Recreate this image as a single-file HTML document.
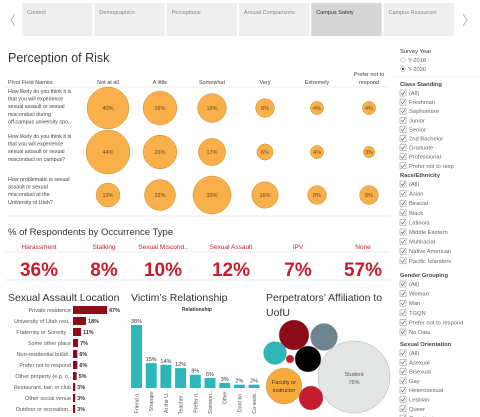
<!DOCTYPE html>
<html><head><meta charset="utf-8">
<style>
body{margin:0;width:480px;height:417px;overflow:hidden;background:#fff;font-family:"Liberation Sans",sans-serif;}
svg{display:block}
text{font-family:"Liberation Sans",sans-serif}
</style></head><body>
<svg id="s" width="480" height="417" viewBox="0 0 480 417"></svg>
<script>
const tabs=["Context","Demographics","Perceptions","Annual Comparisons","Campus Safety","Campus Resources"];
const riskCols=["Not at all","A little","Somewhat","Very","Extremely","Prefer not to respond"];
const riskRow1=[40,26,19,8,4,4];
const riskRow2=[44,26,17,6,4,3];
const riskRow3=[13,22,33,16,8,8];
const riskQuestions=[["How likely do you think it is","that you will experience","sexual assault or sexual","misconduct during","off-campus university spo.."],["How likely do you think it is","that you will experience","sexual assault or sexual","misconduct on campus?"],["How problematic is sexual","assault or sexual","misconduct at the","University of Utah?"]];
const occLabels=["Harassment","Stalking","Sexual Miscond..","Sexual Assault","IPV","None"];
const occValues=[36,8,10,12,7,57];
const locLabels=["Private residence","University of Utah resi..","Fraternity or Sorority ..","Some other place","Non-residential buildi..","Prefer not to respond","Other property (e.g. o..","Restaurant, bar, or club","Other social venue","Outdoor or recreation.."];
const locValues=[47,18,11,7,6,6,5,3,3,3];
const relLabels=["Friend o..","Stranger","At the U..","Teacher ..","Prefer n..","Someon..","Other","Dont kn..","Co-work.."];
const relValues=[38,15,14,12,8,6,3,2,2];
const filters=[["Class Standing",84,9.1,["(All)","Freshman","Sophomore","Junior","Senior","2nd Bachelor","Graduate","Professional","Prefer not to resp"]],["Race/Ethnicity",175,9.6,["(All)","Asian","Biracial","Black","Latino/a","Middle Eastern","Multiracial","Native American","Pacific Islanders"]],["Gender Grouping",275,9.6,["(All)","Woman","Man","TGQN","Prefer not to respond","No Data"]],["Sexual Orientation",344,9.3,["(All)","Asexual","Bisexual","Gay","Heterosexual","Lesbian","Queer","Questioning or un..","Self-identify"]]];
const s=document.getElementById('s');const NS="http://www.w3.org/2000/svg";
function E(t,a,txt){const e=document.createElementNS(NS,t);for(const k in a)e.setAttribute(k,a[k]);if(txt!==undefined)e.textContent=txt;s.appendChild(e);return e;}
// tabs
tabs.forEach((t,i)=>{const x=22+i*72.3;
const r=E('rect',{x:x,y:3,width:70.5,height:33,fill:i==4?'#d6d6d6':'#efefef'});


const tx=E('text',{x:x+5,y:14,'font-size':5.5,fill:i==4?'#333':'#888'},t);

});
let a=E('path',{d:'M15 14 L11 20 L15 26',fill:'none',stroke:'#aaa','stroke-width':0.8});

a=E('path',{d:'M463 14 L467 20 L463 26',fill:'none',stroke:'#aaa','stroke-width':0.8});

// risk
let t=E('text',{x:8,y:62,'font-size':12.5,fill:'#333'},'Perception of Risk');

E('text',{x:8,y:84,'font-size':5.5,fill:'#444'},'Pivot Field Names');
const cx=[108,160,212,265,317,369];
riskCols.forEach((c,i)=>{if(i==5){E('text',{x:cx[i],y:76,'font-size':5.5,fill:'#444','text-anchor':'middle'},'Prefer not to');E('text',{x:cx[i],y:84,'font-size':5.5,fill:'#444','text-anchor':'middle'},'respond');}
else{const h=E('text',{x:cx[i],y:84,'font-size':5.5,fill:'#444','text-anchor':'middle'},c);}});
E('line',{x1:5,y1:87,x2:390,y2:87,stroke:'#ddd','stroke-width':0.6});
E('line',{x1:5,y1:216,x2:390,y2:216,stroke:'#ddd','stroke-width':0.6});
const rows=[riskRow1,riskRow2,riskRow3];const ry=[108,152,195];
rows.forEach((r,j)=>{riskQuestions[j].forEach((l,k)=>E('text',{x:8,y:ry[j]-14+(j==0?-1:0)+k*7.6,'font-size':5.3,fill:'#444'},l));
r.forEach((v,i)=>{const c=E('circle',{cx:cx[i],cy:ry[j],r:3.3*Math.sqrt(v),fill:'#f9b04a',stroke:'#c88a2a','stroke-width':0.5});

E('text',{x:cx[i],y:ry[j]+2,'font-size':5.5,fill:'#6a4a1a','text-anchor':'middle'},v+'%');});});
// occurrence
t=E('text',{x:8,y:235,'font-size':9.5,fill:'#333'},'% of Respondents by Occurrence Type');

E('line',{x1:5,y1:252,x2:390,y2:252,stroke:'#e4e4e4','stroke-width':0.8});
E('line',{x1:5,y1:280,x2:390,y2:280,stroke:'#e4e4e4','stroke-width':0.8});
const ox=[39,104,163,231,298,363];
occLabels.forEach((l,i)=>{E('text',{x:ox[i],y:249,'font-size':6.5,fill:'#c41e2e','text-anchor':'middle'},l);
const n=E('text',{x:ox[i],y:276,'font-size':19,'font-weight':'bold',fill:'#c41e2e','text-anchor':'middle'},occValues[i]+'%');
});
// location
t=E('text',{x:8,y:301,'font-size':10.5,fill:'#333'},'Sexual Assault Location');

const lx=v=>v*34/47;
locLabels.forEach((l,i)=>{const y=310+i*11;E('text',{x:71,y:y+2,'font-size':5.5,fill:'#555','text-anchor':'end'},l);
const b=E('rect',{x:73,y:y-4,width:lx(locValues[i]),height:8,fill:'#8e0c1a'});

E('text',{x:75+lx(locValues[i]),y:y+2,'font-size':5.5,'font-weight':'bold',fill:'#333'},locValues[i]+'%');});
// relationship
t=E('text',{x:131,y:301,'font-size':10.5,fill:'#333'},"Victim’s Relationship");

E('text',{x:197,y:311,'font-size':5,'font-weight':'bold',fill:'#333','text-anchor':'middle'},'Relationship');
const ry0=388,rs=63/38;
relLabels.forEach((l,i)=>{const x=131+i*14.7,h=relValues[i]*rs;
const b=E('rect',{x:x,y:ry0-h,width:11,height:h,fill:'#2db7b9'});

E('text',{x:x+5.5,y:ry0-h-2,'font-size':5.5,fill:'#333','text-anchor':'middle'},relValues[i]+'%');
E('text',{x:0,y:0,'font-size':5.3,fill:'#555','text-anchor':'end',transform:`translate(${x+7.5},391) rotate(-90)`},l);});
// perpetrators
t=E('text',{x:266,y:301,'font-size':10.5,fill:'#333'},'Perpetrators’ Affiliation to');

E('text',{x:266,y:316,'font-size':10.5,fill:'#333'},'UofU');
const bub=[[354,377,36,'#e4e6e6'],[284,386,18,'#f7a93a'],[294,335,15,'#8e0c1a'],[324,337,13.5,'#6e8591'],[275,353,11.5,'#2db7b9'],[290,359,4,'#c41e2e'],[308,359,13,'#000'],[311,398,12,'#c41e2e']];
bub.forEach(b=>{const c=E('circle',{cx:b[0],cy:b[1],r:b[2],fill:b[3],stroke:'#999','stroke-width':0.4});
});
E('text',{x:354,y:376,'font-size':5.5,fill:'#555','text-anchor':'middle'},'Student');
E('text',{x:354,y:384,'font-size':5.5,fill:'#555','text-anchor':'middle'},'76%');
E('text',{x:284,y:384,'font-size':5.5,fill:'#333','text-anchor':'middle'},'Faculty or');
E('text',{x:284,y:392,'font-size':5.5,fill:'#333','text-anchor':'middle'},'instructor');
// filters
E('text',{x:400,y:53,'font-size':5.8,fill:'#333'},'Survey Year');
['Y-2018','Y-2020'].forEach((y,i)=>{const c=E('circle',{cx:403,cy:60+i*9,r:2.3,fill:'#fff',stroke:'#999','stroke-width':0.5});

if(i==1)E('circle',{cx:403,cy:69,r:1.2,fill:'#555'});
E('text',{x:408,y:62+i*9,'font-size':5.8,fill:'#666'},y);});
E('line',{x1:390,y1:77,x2:480,y2:77,stroke:'#eee','stroke-width':0.6});
filters.forEach(f=>{E('text',{x:400,y:f[1]+2,'font-size':5.8,'font-weight':'bold',fill:'#444'},f[0]);
f[3].forEach((it,k)=>{const y=f[1]+9+k*f[2];const cb=E('rect',{x:400,y:y-3,width:6,height:6,fill:'#fff',stroke:'#888','stroke-width':0.5});

E('path',{d:`M401.2 ${y} L402.7 ${y+1.6} L405 ${y-1.8}`,fill:'none',stroke:'#444','stroke-width':0.6});
E('text',{x:409,y:y+2,'font-size':5.8,fill:'#666'},it);});});
</script>
</body></html>
